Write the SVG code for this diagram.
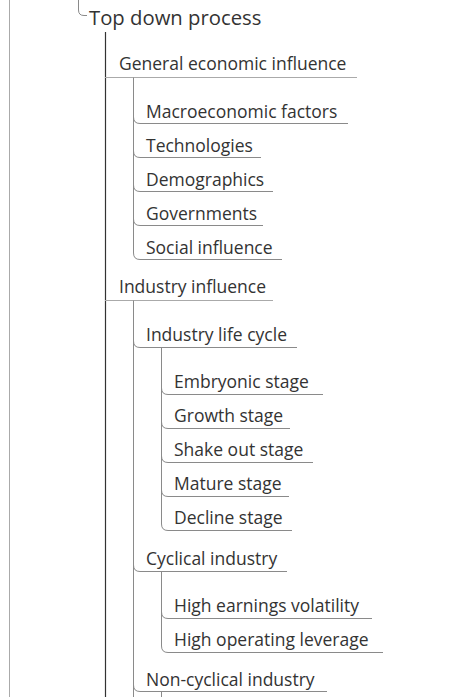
<svg xmlns="http://www.w3.org/2000/svg" width="474" height="697" viewBox="0 0 474 697">
<style>
text{font-family:"Open Sans","Noto Sans","Liberation Sans",sans-serif;fill:#333}
.root{font-size:20.3px}
.l1{font-size:17.5px}
.l2{font-size:17.5px}
.c{fill:none;stroke:#8a8a8a;stroke-width:1}
.u{fill:none;stroke:#aaa;stroke-width:1}
.main{fill:none;stroke:#333;stroke-width:1.2}
</style>
<rect width="474" height="697" fill="#fff"/>
<g id="connectors">
<line x1="9.5" y1="0" x2="9.5" y2="697" stroke="#aaa" stroke-width="1"/>
<path class="c" d="M78.5,0 V10 Q78.5,15.5 84,15.5 H87"/>
<path class="main" d="M105.5,32 V697"/>
<path class="u" d="M105,77.5 H357"/>
<path class="u" d="M105,300.5 H273"/>
<path class="c" d="M133.5,77.5 V253"/>
<path class="c" d="M133.5,117 Q133.5,123.5 140,123.5 H348"/>
<path class="c" d="M133.5,151 Q133.5,157.5 140,157.5 H261"/>
<path class="c" d="M133.5,185 Q133.5,191.5 140,191.5 H273"/>
<path class="c" d="M133.5,219 Q133.5,225.5 140,225.5 H263"/>
<path class="c" d="M133.5,253 Q133.5,259.5 140,259.5 H282"/>
<path class="c" d="M133.5,300.5 V697"/>
<path class="c" d="M133.5,341 Q133.5,347.5 140,347.5 H297"/>
<path class="c" d="M133.5,565 Q133.5,571.5 140,571.5 H287"/>
<path class="c" d="M133.5,685 Q133.5,691.5 140,691.5 H327"/>
<path class="c" d="M161.5,347.5 V524"/>
<path class="c" d="M161.5,388 Q161.5,394.5 168,394.5 H323"/>
<path class="c" d="M161.5,422 Q161.5,428.5 168,428.5 H290"/>
<path class="c" d="M161.5,456 Q161.5,462.5 168,462.5 H313"/>
<path class="c" d="M161.5,490 Q161.5,496.5 168,496.5 H289"/>
<path class="c" d="M161.5,524 Q161.5,530.5 168,530.5 H292"/>
<path class="c" d="M161.5,571.5 V646"/>
<path class="c" d="M161.5,612 Q161.5,618.5 168,618.5 H372"/>
<path class="c" d="M161.5,646 Q161.5,652.5 168,652.5 H383"/>
<path class="c" d="M161.5,691.5 V697"/>
</g>
<g id="n-root"><text class="root" x="89" y="25">Top down process</text></g>
<g id="n-gei"><text class="l1" x="119" y="70">General economic influence</text></g>
<g id="n-macro"><text class="l2" x="146" y="118">Macroeconomic factors</text></g>
<g id="n-tech"><text class="l2" x="146" y="152">Technologies</text></g>
<g id="n-demo"><text class="l2" x="146" y="186">Demographics</text></g>
<g id="n-gov"><text class="l2" x="146" y="220">Governments</text></g>
<g id="n-social"><text class="l2" x="146" y="254">Social influence</text></g>
<g id="n-ind"><text class="l1" x="119" y="293">Industry influence</text></g>
<g id="n-ilc"><text class="l2" x="146" y="341">Industry life cycle</text></g>
<g id="n-emb"><text class="l2" x="174" y="388">Embryonic stage</text></g>
<g id="n-growth"><text class="l2" x="174" y="422">Growth stage</text></g>
<g id="n-shake"><text class="l2" x="174" y="456">Shake out stage</text></g>
<g id="n-mature"><text class="l2" x="174" y="490">Mature stage</text></g>
<g id="n-decline"><text class="l2" x="174" y="524">Decline stage</text></g>
<g id="n-cyc"><text class="l2" x="146" y="565">Cyclical industry</text></g>
<g id="n-hev"><text class="l2" x="174" y="612">High earnings volatility</text></g>
<g id="n-hol"><text class="l2" x="174" y="646">High operating leverage</text></g>
<g id="n-noncyc"><text class="l2" x="146" y="686">Non-cyclical industry</text></g>
</svg>
